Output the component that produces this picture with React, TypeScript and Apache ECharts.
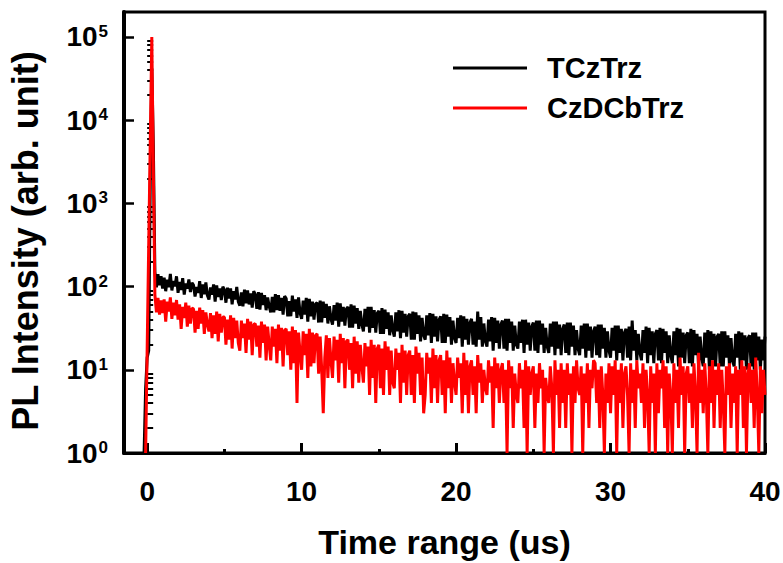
import React, { useEffect, useRef } from 'react';
import * as echarts from 'echarts';

// time grid (us): first channel and channel width
const T0 = -0.3;
const DT = 0.1;

// PL counts, TCzTrz (black); null = not recorded
const tczTrz: (number | null)[] = [
  null, 1, 6, 14, 17, 1800, 42000, 5000, 150, 98, 141, 104, 133,
  95, 128, 88, 121, 98, 142, 90, 117, 101, 133,
  84, 114, 91, 126, 80, 109, 95, 122, 86, 111,
  104, 76, 99, 84, 116, 73, 106, 81, 112, 78,
  70, 98, 80, 106, 66, 103, 75, 95, 69, 100,
  91, 64, 97, 72, 95, 61, 88, 70, 99, 66,
  59, 85, 58, 92, 63, 90, 61, 83, 56, 88,
  80, 54, 86, 53, 84, 60, 79, 52, 74, 58,
  49, 75, 49, 81, 52, 79, 51, 73, 46, 77,
  72, 44, 67, 44, 78, 50, 70, 42, 74, 48,
  41, 68, 46, 73, 38, 71, 44, 66, 40, 62,
  64, 37, 68, 37, 66, 42, 62, 36, 58, 41,
  35, 60, 39, 64, 33, 63, 38, 57, 34, 54,
  57, 32, 61, 32, 59, 36, 55, 31, 51, 35,
  29, 54, 33, 57, 28, 57, 32, 52, 28, 48,
  51, 27, 55, 27, 53, 31, 49, 26, 45, 30,
  25, 49, 29, 52, 24, 51, 28, 47, 25, 44,
  47, 23, 50, 23, 49, 27, 45, 22, 42, 26,
  23, 45, 26, 48, 21, 47, 25, 44, 22, 40,
  44, 21, 47, 21, 46, 25, 43, 20, 39, 24,
  21, 42, 24, 45, 19, 44, 23, 41, 20, 37,
  41, 20, 38, 19, 50, 23, 43, 19, 36, 22,
  19, 40, 22, 43, 17, 42, 21, 39, 18, 35,
  39, 18, 41, 17, 41, 21, 38, 17, 34, 20,
  18, 38, 21, 40, 16, 40, 20, 37, 17, 33,
  37, 17, 39, 16, 39, 20, 36, 16, 32, 19,
  16, 36, 19, 38, 15, 38, 18, 35, 15, 31,
  35, 16, 37, 15, 37, 19, 34, 15, 30, 18,
  15, 34, 18, 36, 14, 36, 17, 33, 14, 29,
  33, 15, 35, 14, 35, 18, 32, 14, 29, 17,
  14, 32, 17, 34, 13, 34, 16, 31, 13, 28,
  31, 14, 33, 13, 39, 17, 30, 13, 27, 16,
  13, 30, 16, 33, 12, 32, 15, 29, 12, 27,
  30, 13, 32, 12, 31, 16, 29, 12, 26, 15,
  12, 29, 15, 32, 11, 31, 14, 28, 12, 26,
  28, 12, 31, 11, 30, 15, 27, 11, 25, 14,
  11, 28, 14, 30, 10, 29, 13, 27, 11, 25,
  27, 11, 29, 11, 29, 14, 26, 11, 24, 13,
  11, 27, 14, 29, 10, 28, 13, 26, 10, 24,
  26, 11, 28, 10, 28, 13, 25, 10, 23, 13,
  25,
];

// PL counts, CzDCbTrz (red)
const czDCbTrz: (number | null)[] = [
  null, null, 1, 18, 320, 5600, 100000, 2500, 80, 49, 73, 46, 68,
  48, 70, 38, 66, 50, 74, 41, 64, 45, 69,
  40, 61, 31, 57, 42, 64, 33, 59, 36, 55,
  54, 28, 51, 31, 56, 36, 52, 27, 49, 35,
  29, 48, 24, 45, 27, 50, 22, 47, 28, 43,
  43, 20, 40, 23, 45, 18, 42, 24, 39, 21,
  17, 39, 24, 36, 16, 41, 23, 38, 15, 35,
  36, 19, 34, 14, 38, 21, 35, 13, 33, 20,
  13, 33, 19, 31, 12, 35, 17, 32, 11, 30,
  31, 15, 29, 10, 33, 12, 30, 4, 28, 16,
  10, 29, 15, 27, 8, 31, 11, 28, 12, 26,
  27, 9, 25, 10, 3, 14, 26, 8, 24, 13,
  8, 25, 13, 23, 7, 27, 12, 24, 6, 22,
  23, 10, 21, 6, 25, 9, 22, 7, 20, 11,
  7, 21, 11, 19, 5, 23, 8, 20, 4, 18,
  20, 6, 18, 5, 22, 10, 19, 5, 17, 7,
  6, 18, 10, 16, 4, 20, 7, 17, 5, 15,
  17, 5, 15, 4, 19, 9, 16, 5, 14, 3,
  5, 16, 9, 14, 4, 18, 6, 15, 4, 13,
  15, 5, 13, 3, 17, 6, 14, 4, 12, 7,
  5, 14, 8, 12, 3, 16, 5, 13, 3, 11,
  13, 5, 11, 3, 15, 7, 12, 4, 10, 6,
  5, 13, 7, 11, 2, 14, 6, 12, 4, 10,
  12, 4, 10, 1, 13, 6, 11, 2, 9, 5,
  4, 12, 6, 10, 2, 13, 1, 11, 5, 9,
  11, 2, 9, 4, 12, 6, 10, 1, 8, 5,
  4, 11, 6, 1, 13, 5, 10, 2, 12, 4,
  10, 2, 12, 5, 9, 1, 11, 4, 13, 6,
  5, 11, 1, 9, 4, 12, 2, 10, 6, 13,
  12, 4, 10, 2, 11, 5, 1, 9, 4, 12,
  3, 11, 5, 13, 1, 10, 4, 12, 2, 9,
  11, 5, 1, 12, 4, 10, 2, 13, 6, 9,
  4, 12, 2, 10, 5, 1, 11, 4, 9, 1,
  12, 3, 10, 6, 13, 2, 11, 1, 9, 5,
  1, 12, 4, 10, 2, 14, 5, 11, 1, 9,
  11, 4, 9, 2, 12, 5, 1, 16, 4, 10,
  3, 12, 5, 1, 11, 4, 13, 2, 10, 5,
  12, 2, 10, 4, 1, 11, 5, 12, 2, 9,
  4, 11, 1, 10, 5, 13, 2, 11, 1, 9,
  12, 4, 10, 2, 14, 5, 1, 11, 3, 10,
  5,
];

const seriesNames = ['TCzTrz', 'CzDCbTrz'];
const seriesColors = ['#000000', '#ff0000'];

const xMajorTicks = [0, 10, 20, 30, 40];
const xMinorTicks = [5, 15, 25, 35];
const yDecades = [0, 1, 2, 3, 4, 5]; // exponents of 10
const yMinorMultipliers = [2, 3, 4, 5, 6, 7, 8, 9];

const FONT = '"Liberation Sans", Arial, Helvetica, sans-serif';

function toPoints(counts: (number | null)[]) {
  const pts: [number, number][] = [];
  counts.forEach((c, i) => {
    if (c == null) return;
    const t = Math.round((T0 + i * DT) * 10) / 10;
    pts.push([t, Math.log10(c)]);
  });
  return pts;
}

export default function App() {
  const ref = useRef<HTMLDivElement>(null);

  useEffect(() => {
    if (!ref.current) return;
    const chart = echarts.init(ref.current, null, { renderer: 'svg' });

    const yMinor: number[] = [];
    yDecades.slice(0, -1).forEach((d) => {
      yMinorMultipliers.forEach((m) => yMinor.push(d + Math.log10(m)));
    });

    const option: any = {
      animation: false,
      backgroundColor: '#ffffff',
      grid: {
        left: 124,
        right: 18,
        top: 12,
        bottom: 110,
        show: true,
        borderColor: '#000',
        borderWidth: 3,
        backgroundColor: 'transparent',
        outerBoundsMode: 'none',
      },
      legend: {
        orient: 'vertical',
        left: 453,
        top: 53,
        padding: 0,
        itemWidth: 74,
        itemHeight: 3,
        icon: 'rect',
        itemGap: 10,
        data: seriesNames,
        textStyle: {
          fontFamily: FONT,
          fontSize: 29,
          fontWeight: 'bold',
          color: '#000',
          lineHeight: 30,
          padding: [0, 0, 0, 15],
        },
      },
      xAxis: [
        {
          type: 'value',
          min: -1.5,
          max: 40,
          splitLine: { show: false },
          axisLine: { show: true, onZero: false, lineStyle: { color: '#000', width: 3 } },
          axisTick: {
            show: true,
            inside: true,
            length: 10,
            customValues: xMajorTicks,
            lineStyle: { color: '#000', width: 3 },
          },
          axisLabel: {
            show: true,
            customValues: xMajorTicks,
            margin: 24,
            fontFamily: FONT,
            fontSize: 28,
            fontWeight: 'bold',
            color: '#000',
          },
          name: 'Time range (us)',
          nameLocation: 'middle',
          nameGap: 72,
          nameTextStyle: {
            fontFamily: FONT,
            fontSize: 34,
            fontWeight: 'bold',
            color: '#000',
          },
        },
        {
          type: 'value',
          min: -1.5,
          max: 40,
          position: 'bottom',
          splitLine: { show: false },
          axisLine: { show: false },
          axisLabel: { show: false },
          axisTick: {
            show: true,
            inside: true,
            length: 4,
            customValues: xMinorTicks,
            lineStyle: { color: '#000', width: 3 },
          },
        },
      ],
      yAxis: [
        {
          type: 'value',
          min: 0,
          max: 5.3,
          splitLine: { show: false },
          axisLine: { show: true, onZero: false, lineStyle: { color: '#000', width: 4 } },
          axisTick: {
            show: true,
            inside: true,
            length: 10,
            customValues: yDecades,
            lineStyle: { color: '#000', width: 2.5 },
          },
          axisLabel: {
            show: true,
            customValues: yDecades,
            margin: 16,
            formatter: (v: number) => `{b|10}{s|${Math.round(v)}}`,
            rich: {
              b: {
                fontFamily: FONT,
                fontSize: 28,
                fontWeight: 'bold',
                color: '#000',
                lineHeight: 28,
              },
              s: {
                fontFamily: FONT,
                fontSize: 17,
                fontWeight: 'bold',
                color: '#000',
                verticalAlign: 'top',
                lineHeight: 17,
                padding: [0, 0, 0, 1],
              },
            },
          },
        },
        {
          type: 'value',
          min: 0,
          max: 5.3,
          position: 'left',
          splitLine: { show: false },
          axisLine: { show: false },
          axisLabel: { show: false },
          axisTick: {
            show: true,
            inside: true,
            length: 6,
            customValues: yMinor,
            lineStyle: { color: '#000', width: 2 },
          },
        },
      ],
      graphic: [
        {
          type: 'text',
          x: 25,
          y: 241,
          rotation: Math.PI / 2,
          style: {
            text: 'PL Intensity (arb. unit)',
            fontFamily: FONT,
            fontSize: 36,
            fontWeight: 'bold',
            fill: '#000',
            align: 'center',
            verticalAlign: 'middle',
          },
        },
      ],
      series: [tczTrz, czDCbTrz].map((counts, i) => ({
        type: 'line',
        name: seriesNames[i],
        data: toPoints(counts),
        xAxisIndex: 0,
        yAxisIndex: 0,
        symbol: 'none',
        showSymbol: false,
        clip: true,
        z: 2 + i,
        lineStyle: { color: seriesColors[i], width: 3 },
        itemStyle: { color: seriesColors[i] },
      })),
    };

    chart.setOption(option);
    return () => chart.dispose();
  }, []);

  return (
    <div
      ref={ref}
      style={{
        position: 'fixed',
        left: 0,
        top: 0,
        width: 783,
        height: 563,
        background: '#fff',
      }}
    />
  );
}
